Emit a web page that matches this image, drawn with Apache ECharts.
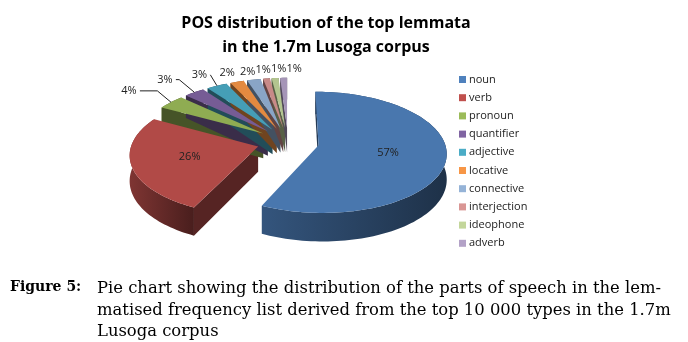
<!DOCTYPE html>
<html>
<head>
<meta charset="utf-8">
<script src="https://cdn.jsdelivr.net/npm/echarts@6/dist/echarts.min.js"></script>
<style>
html, body { margin: 0; padding: 0; background: #fff; }
#chart { width: 688px; height: 342px; }
</style>
</head>
<body>
<div id="chart"></div>
<script>
var categories = ['noun', 'verb', 'pronoun', 'quantifier', 'adjective', 'locative', 'connective', 'interjection', 'ideophone', 'adverb'];
var shares = [57, 26, 4, 3, 3, 2, 2, 1, 1, 1];
var colors = ['#4F81BD', '#C0504D', '#9BBB59', '#8064A2', '#4BACC6', '#F79646', '#95B3D7', '#D99694', '#C3D69B', '#B3A2C7'];

var total = 0, starts = [];
for (var i = 0; i < shares.length; i++) { starts.push(total); total += shares[i]; }

var explode = 0.247; // in radius units
var depth = 25;      // px, thickness of the 3d pie
var persp = 0.117;   // back of the pie drawn smaller than the front

function shade(hex, f) {
    var n = parseInt(hex.slice(1), 16);
    var r = Math.round(((n >> 16) & 255) * f), g = Math.round(((n >> 8) & 255) * f), b = Math.round((n & 255) * f);
    return 'rgb(' + r + ',' + g + ',' + b + ')';
}

// geometry of one slice, angle measured clockwise from 12 o'clock
function sliceGeo(idx, c, rx, ry) {
    var a0 = starts[idx] / total * 2 * Math.PI;
    var a1 = (starts[idx] + shares[idx]) / total * 2 * Math.PI;
    var mid = (a0 + a1) / 2;
    var ox = Math.sin(mid) * explode, oy = Math.cos(mid) * explode;
    function proj(X, Y, drop) {
        var f = 1 / (1 + persp * Y);
        return [c[0] + X * rx * f, c[1] - Y * ry * f + (drop ? depth * f : 0)];
    }
    return {
        a0: a0, a1: a1, mid: mid,
        o: proj(ox, oy), oDown: proj(ox, oy, true),
        pt: function (a, r, drop) { return proj(ox + Math.sin(a) * r, oy + Math.cos(a) * r, drop); }
    };
}

// outside labels for the small slices, pushed apart so they don't overlap
function layoutLabels(c, rx, ry) {
    var out = [];
    for (var i = 0; i < shares.length; i++) {
        if (shares[i] >= 10) { out.push(null); continue; }
        var g = sliceGeo(i, c, rx, ry);
        var rim = g.pt(g.mid, 1);
        var vx = Math.sin(g.mid) * rx, vy = -Math.cos(g.mid) * ry;
        var len = Math.sqrt(vx * vx + vy * vy);
        var sx = vx / len, sy = vy / len;
        var L = 12 + 45 * Math.pow(Math.abs(sx), 6);
        out.push({ rim: rim, x: rim[0] + sx * L, y: rim[1] + sy * L + 3 });
    }
    var prev = null;
    for (var j = 0; j < out.length; j++) {
        if (!out[j]) continue;
        if (prev && Math.abs(prev.y - out[j].y) < 12 && out[j].x < prev.x + 15.5) out[j].x = prev.x + 15.5;
        prev = out[j];
    }
    return out;
}

function sliceRenderer(idx) {
    return function (params, api) {
        var c = api.coord([0, 0]);
        var sz = api.size([1, 1]);
        var rx = sz[0], ry = sz[1];
        var g = sliceGeo(idx, c, rx, ry);
        var base = colors[idx];
        var arc = [], arcDown = [];
        var n = Math.max(2, Math.ceil((g.a1 - g.a0) / 0.03));
        for (var k = 0; k <= n; k++) {
            var a = g.a0 + (g.a1 - g.a0) * k / n;
            arc.push(g.pt(a, 1));
            arcDown.push(g.pt(a, 1, true));
        }
        var children = [];

        // outer wall
        children.push({
            type: 'polygon', z2: 1,
            shape: { points: arc.concat(arcDown.reverse()) },
            style: {
                fill: new echarts.graphic.LinearGradient(0, 0, 1, 0, [
                    { offset: 0, color: shade(base, 0.66) },
                    { offset: 1, color: shade(base, 0.38) }
                ])
            }
        });
        // cut walls, only those facing the viewer
        var m = g.pt(g.mid, 0.5);
        [g.a0, g.a1].forEach(function (a) {
            var q = g.pt(a, 1), qd = g.pt(a, 1, true);
            var ex = q[0] - g.o[0], ey = q[1] - g.o[1];
            var cm = ex * (m[1] - g.o[1]) - ey * (m[0] - g.o[0]);
            if (Math.abs(ex) > 0.5 && cm * -ex > 0) {
                children.push({
                    type: 'polygon', z2: 2,
                    shape: { points: [g.o, q, qd, g.oDown] },
                    style: { fill: shade(base, 0.45) }
                });
            }
        });
        // top face
        children.push({
            type: 'polygon', z2: 10,
            shape: { points: [g.o].concat(arc) },
            style: { fill: shade(base, 0.92) }
        });

        // percent label
        var txt = shares[idx] + '%';
        var lblStyle = { fontSize: 11, fontFamily: 'Open Sans', fill: '#222', align: 'center', verticalAlign: 'middle' };
        if (shares[idx] >= 10) {
            var p = g.pt(g.mid, 0.55);
            children.push({ type: 'text', z2: 20, x: p[0], y: p[1], style: Object.assign({ text: txt }, lblStyle) });
        } else {
            var L = layoutLabels(c, rx, ry)[idx];
            var dx = L.rim[0] - L.x, dy = L.rim[1] - L.y;
            var pts = null;
            if (Math.abs(dx) > Math.abs(dy) && dx > 14) {
                var kx = Math.max(L.x + 11, L.rim[0] - dy * 1.2);
                pts = [[L.x + 11, L.y], [kx, L.y], L.rim];
            } else if (dy > 9) {
                pts = [[L.x + dx * 0.4, L.y + 6], L.rim];
            }
            if (pts) {
                children.push({
                    type: 'polyline', z2: 20,
                    shape: { points: pts },
                    style: { stroke: '#222', lineWidth: 1, fill: null }
                });
            }
            children.push({ type: 'text', z2: 20, x: L.x, y: L.y, style: Object.assign({ text: txt }, lblStyle) });
        }
        return { type: 'group', children: children };
    };
}

var myChart = echarts.init(document.getElementById('chart'));

var series = categories.map(function (name, i) {
    return {
        name: name,
        type: 'custom',
        clip: false,
        silent: true,
        itemStyle: { color: colors[i] },
        renderItem: sliceRenderer(i),
        data: [[shares[i]]]
    };
});

option = {
    animation: false,
    title: {
        text: 'POS distribution of the top lemmata\nin the 1.7m Lusoga corpus',
        left: 321,
        top: 6,
        textAlign: 'center',
        textStyle: { fontFamily: 'Open Sans', fontWeight: 'bold', fontSize: 16, lineHeight: 24, color: '#000' }
    },
    legend: {
        data: categories,
        orient: 'vertical',
        left: 459,
        top: 74,
        icon: 'rect',
        itemWidth: 7,
        itemHeight: 7,
        itemGap: 7.2,
        padding: 0,
        selectedMode: false,
        textStyle: { fontFamily: 'Open Sans', fontSize: 11, color: '#222', padding: [0, 0, 0, -2] }
    },
    grid: { left: 162, top: 83, width: 252, height: 118 },
    xAxis: { type: 'value', min: -1, max: 1, show: false },
    yAxis: { type: 'value', min: -1, max: 1, show: false },
    graphic: [
        { type: 'text', left: 10, top: 280, style: { text: 'Figure 5:', font: 'bold 14px "DejaVu Serif"', fill: '#000' } },
        { type: 'text', left: 97, top: 278, style: { text: 'Pie chart showing the distribution of the parts of speech in the lem-\nmatised frequency list derived from the top 10 000 types in the 1.7m\nLusoga corpus', font: '16.4px "DejaVu Serif"', lineHeight: 21.5, fill: '#000' } }
    ],
    series: series
};

myChart.setOption(option);
window.addEventListener('resize', function () {
    myChart.resize();
});
</script>
</body>
</html>
